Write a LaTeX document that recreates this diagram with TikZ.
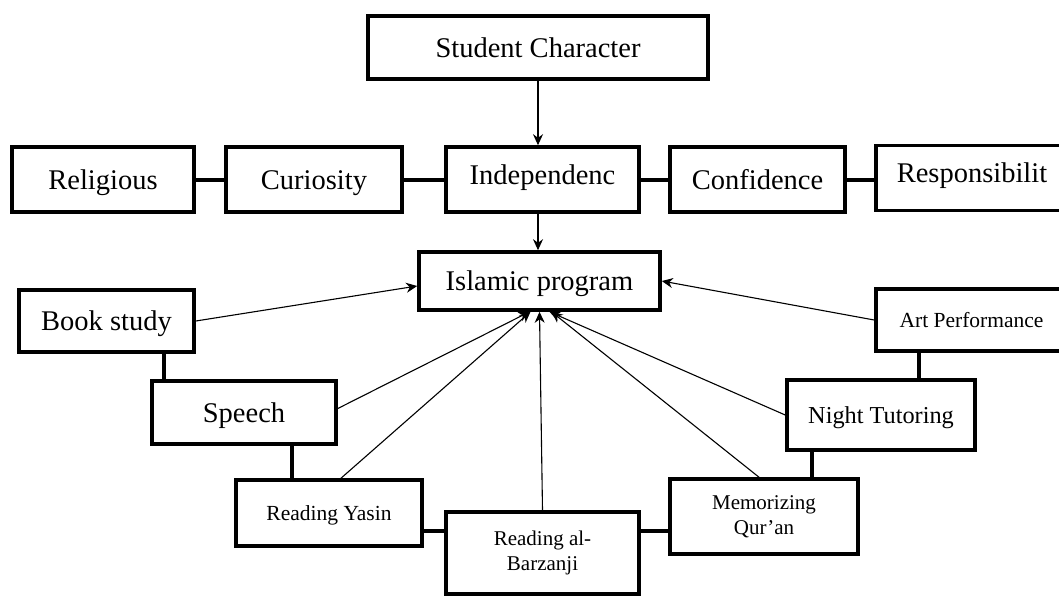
\documentclass[tikz,border=0pt]{standalone}
\usepackage{fontspec}
\setmainfont{Liberation Serif}
\usetikzlibrary{arrows.meta}

\begin{document}
\begin{tikzpicture}[x=1pt, y=-1pt, >={Stealth[length=11pt, width=10pt]},
    frame/.style={draw, line width=3.6pt, inner sep=2pt, align=center},
    box/.style={frame, font=\fontsize{28.5}{30}\selectfont, text height=20pt, text depth=1pt},
    raised/.style={text depth=11pt},
    smallbox/.style={frame, font=\fontsize{21.5}{25}\selectfont, text height=15pt, text depth=0pt},
    twoline/.style={frame, font=\fontsize{21}{25}\selectfont},
    link/.style={line width=4pt},
    feed/.style={->, line width=1.1pt}]
    \useasboundingbox (0,0) rectangle (1059,597);
    \clip (0,0) rectangle (1059,597);

    % Student character
    \node[box, minimum width=340, minimum height=63] (char) at (538,47.5) {Student Character};

    % Character values
    \node[box, minimum width=182, minimum height=65] (relig) at (103,179.5) {Religious};
    \node[box, minimum width=176, minimum height=65] (curio) at (314,179.5) {Curiosity};
    \node[box, raised, minimum width=193, minimum height=65] (indep) at (542.5,179.5) {Independenc};
    \node[box, minimum width=175, minimum height=65] (confid) at (757.5,179.5) {Confidence};
    \node[box, raised, minimum width=192, minimum height=65] (respon) at (972,178) {Responsibilit};

    % Islamic program and its activities
    \node[box, minimum width=241, minimum height=58] (islamic) at (539.5,281) {Islamic program};
    \node[box, minimum width=175, minimum height=62] (book) at (106.5,321) {Book study};
    \node[box, minimum width=184, minimum height=63] (speech) at (244,412.5) {Speech};
    \node[smallbox, minimum width=186, minimum height=66] (yasin) at (329,513) {Reading Yasin};
    \node[twoline, minimum width=193, minimum height=82] (barz) at (542.5,553) {Reading al-\\Barzanji};
    \node[twoline, minimum width=188, minimum height=75] (memo) at (764,516.5) {Memorizing\\Qur'an};
    \node[smallbox, font=\fontsize{24.3}{28}\selectfont, text height=16pt, minimum width=188, minimum height=70] (night) at (881,415) {Night Tutoring};
    \node[smallbox, minimum width=191, minimum height=62] (art) at (971.5,320) {Art Performance};

    % Thick links between neighbouring boxes
    \draw[link] (relig.east) -- (curio.west);
    \draw[link] (curio.east) -- (indep.west);
    \draw[link] (indep.east) -- (confid.west);
    \draw[link] (confid.east) -- (confid.east -| respon.west);

    \coordinate (j1) at (164,0);
    \coordinate (j2) at (292,0);
    \coordinate (j3) at (0,531);
    \coordinate (j5) at (812,0);
    \coordinate (j6) at (919,0);
    \draw[link] (j1 |- book.south) -- (j1 |- speech.north);
    \draw[link] (j2 |- speech.south) -- (j2 |- yasin.north);
    \draw[link] (yasin.east |- j3) -- (barz.west |- j3);
    \draw[link] (barz.east |- j3) -- (memo.west |- j3);
    \draw[link] (j5 |- memo.north) -- (j5 |- night.south);
    \draw[link] (j6 |- night.north) -- (j6 |- art.south);

    % Arrows
    \draw[feed] (char.south) -- (char.south |- indep.north);
    \draw[feed] (char.south |- indep.south) -- (char.south |- islamic.north);
    \draw[feed] (book.east) -- ([yshift=-5pt]islamic.west);
    \draw[feed] (art.west) -- (islamic.east);
    \draw[feed] ([yshift=4pt]speech.east) -- ([xshift=-10pt]islamic.south);
    \draw[feed] ([xshift=12pt]yasin.north) -- ([xshift=-9pt]islamic.south);
    \draw[feed] (barz.north) -- (islamic.south);
    \draw[feed] (night.west) -- ([xshift=10pt]islamic.south);
    \draw[feed] ([xshift=-5pt]memo.north) -- ([xshift=12pt]islamic.south);
\end{tikzpicture}
\end{document}
